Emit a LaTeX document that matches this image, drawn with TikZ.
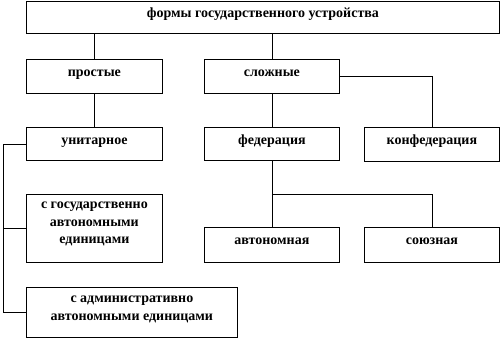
\documentclass[tikz,border=0pt]{standalone}
\usepackage{fontspec}
\setmainfont{Liberation Serif}
\usepackage{tikz}
\usetikzlibrary{positioning,calc}

\begin{document}
\begin{tikzpicture}[
  x=1pt, y=-1pt,
  font=\fontsize{14}{17.5}\selectfont\bfseries,
  box/.style={
    rectangle, draw=black, line width=0.8pt,
    anchor=north west, inner sep=0pt
  },
  txt/.style={anchor=north, yshift=-5pt, inner sep=0pt, align=center,
    execute at begin node=\strut},
  link/.style={line width=0.8pt, black}
]
\useasboundingbox (0,0) rectangle (500,338);

% --- Root ---
\node[box, minimum width=473, minimum height=32,
  label={[txt, yshift=1pt]north:формы государственного устройства}] (forms) at (26,1) {};

% --- Simple / compound ---
\node[box, minimum width=136, minimum height=34,
  label={[txt]north:простые}] (simple) at (26,59) {};
\node[box, minimum width=135, minimum height=34,
  label={[txt]north:сложные}] (compound) at (204,59) {};

% --- Second level ---
\node[box, minimum width=136, minimum height=33,
  label={[txt]north:унитарное}] (unitary) at (26,127) {};
\node[box, minimum width=135, minimum height=33,
  label={[txt]north:федерация}] (federation) at (204,127) {};
\node[box, minimum width=135, minimum height=34,
  label={[txt]north:конфедерация}] (confed) at (364,127) {};

% --- Kinds of unitary state ---
\node[box, minimum width=136, minimum height=68,
  label={[txt, yshift=-3pt]north:с государственно\\автономными\\единицами}] (stateunits) at (26,194) {};
\node[box, minimum width=211, minimum height=50,
  label={[txt, yshift=-4pt]north:с административно\\автономными единицами}] (adminunits) at (26,287) {};

% --- Kinds of federation ---
\node[box, minimum width=135, minimum height=35,
  label={[txt]north:автономная}] (autonomous) at (204,227) {};
\node[box, minimum width=135, minimum height=35,
  label={[txt]north:союзная}] (union) at (364,227) {};

% --- Connections ---
\draw[link] (forms.south -| simple.north) -- (simple.north);
\draw[link] (forms.south -| compound.north) -- (compound.north);
\draw[link] (compound.east) -| (confed.north);
\draw[link] (simple.south) -- (unitary.north);
\draw[link] (compound.south) -- (federation.north);

\coordinate (rail) at (3,0);
\draw[link] (unitary.west) -- (unitary.west -| rail) -- (adminunits.west -| rail) -- (adminunits.west);
\draw[link] (stateunits.west -| rail) -- (stateunits.west);

\coordinate (fork) at ($(federation.south)!0.5!(autonomous.north)$);
\draw[link] (federation.south) -- (autonomous.north);
\draw[link] (fork) -| (union.north);

\end{tikzpicture}
\end{document}
